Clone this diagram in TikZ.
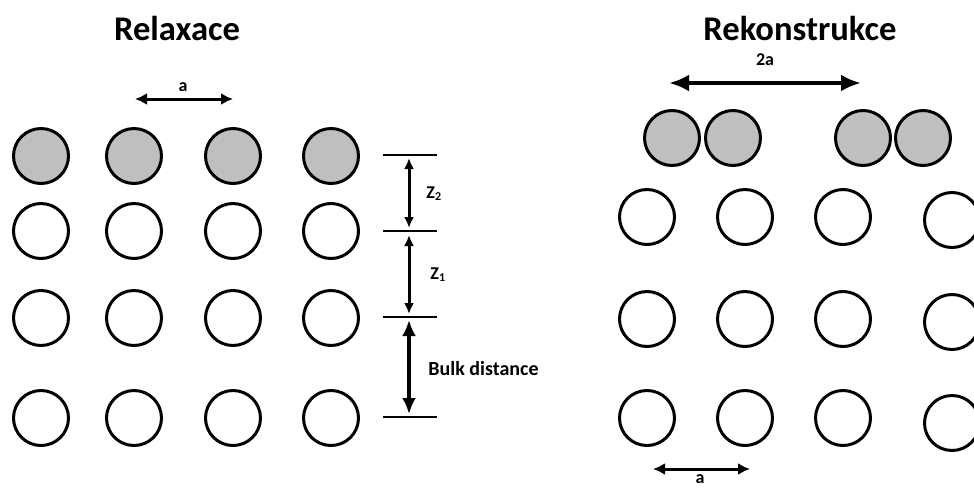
\documentclass[tikz,border=0pt]{standalone}
\usepackage{fontspec}
\setmainfont{Carlito}
\usepackage{tikz}
\usetikzlibrary{arrows.meta,positioning}
\tikzset{style={>={Latex[length=6pt,width=6pt]}}}
\tikzset{bulk/.style={circle,fill=white,draw=black,line width=1.5pt,minimum size=27.5pt,inner sep=0mm}}
\tikzset{surf/.style={circle,fill=gray!50,draw=black,line width=1.5pt,minimum size=27.5pt,inner sep=0mm}}
\tikzset{heading/.style={font=\fontsize{17.3}{20}\selectfont\bfseries}}
\tikzset{dimlabel/.style={font=\fontsize{9}{11}\selectfont\bfseries,inner sep=0pt}}
\tikzset{dimline/.style={line width=1.2pt}}
\tikzset{dimarrow/.style={<->,line width=1.5pt}}
\tikzset{bigarrow/.style={{Latex[length=8pt,width=7pt]}-{Latex[length=8pt,width=7pt]},line width=2pt}}

\begin{document}
\begin{tikzpicture}[x=0.5pt,y=-0.5pt]
    \useasboundingbox (0,0) rectangle (974,488);

    % relaxation: top layer moves down
    \node[heading] (relax) at (177,28) {Relaxace};

    \node[surf] (l11) at (41,156)  {};
    \node[surf] (l12) at (134,156) {};
    \node[surf] (l13) at (233,156) {};
    \node[surf] (l14) at (331,156) {};

    \node[bulk] (l21) at (41,231)  {};
    \node[bulk] (l22) at (134,231) {};
    \node[bulk] (l23) at (233,231) {};
    \node[bulk] (l24) at (331,231) {};

    \node[bulk] (l31) at (41,318)  {};
    \node[bulk] (l32) at (134,318) {};
    \node[bulk] (l33) at (233,318) {};
    \node[bulk] (l34) at (331,318) {};

    \node[bulk] (l41) at (41,418)  {};
    \node[bulk] (l42) at (134,418) {};
    \node[bulk] (l43) at (233,418) {};
    \node[bulk] (l44) at (331,418) {};

    \coordinate (al) at (135,99);
    \coordinate (ar) at (233,99);
    \draw[dimarrow] (al) -- (ar);
    \node[dimlabel] (alab) at (183,87) {a};

    % layer spacing
    \coordinate (t1l) at (383,155); \coordinate (t1r) at (437,155);
    \coordinate (t2l) at (383,231); \coordinate (t2r) at (437,231);
    \coordinate (t3l) at (383,317); \coordinate (t3r) at (437,317);
    \coordinate (t4l) at (383,417); \coordinate (t4r) at (437,417);
    \draw[dimline] (t1l) -- (t1r);
    \draw[dimline] (t2l) -- (t2r);
    \draw[dimline] (t3l) -- (t3r);
    \draw[dimline] (t4l) -- (t4r);

    \coordinate (z2a) at (409,158); \coordinate (z2b) at (409,228);
    \coordinate (z1a) at (409,235); \coordinate (z1b) at (409,314);
    \coordinate (bka) at (409,320); \coordinate (bkb) at (409,414);
    \draw[dimarrow,>={Latex[length=5.5pt,width=5pt]}] (z2a) -- (z2b);
    \draw[dimarrow,>={Latex[length=5.5pt,width=5pt]}] (z1a) -- (z1b);
    \draw[bigarrow] (bka) -- (bkb);

    \node[dimlabel,anchor=west] (z2lab) at (426,194) {Z\textsubscript{2}};
    \node[dimlabel,anchor=west] (z1lab) at (430,275) {Z\textsubscript{1}};
    \node[dimlabel,anchor=west,font=\fontsize{10}{12}\selectfont\bfseries] (bklab) at (428,369) {Bulk distance};

    % reconstruction: top atoms pair up
    \node[heading] (recon) at (800,28) {Rekonstrukce};

    \node[surf] (r11) at (672,138) {};
    \node[surf] (r12) at (733,138) {};
    \node[surf] (r13) at (863,138) {};
    \node[surf] (r14) at (923,138) {};

    \node[bulk] (r21) at (647,217) {};
    \node[bulk] (r22) at (745,217) {};
    \node[bulk] (r23) at (843,217) {};
    \node[bulk] (r24) at (952,220) {};

    \node[bulk] (r31) at (647,319) {};
    \node[bulk] (r32) at (745,319) {};
    \node[bulk] (r33) at (843,319) {};
    \node[bulk] (r34) at (952,322) {};

    \node[bulk] (r41) at (647,418) {};
    \node[bulk] (r42) at (745,418) {};
    \node[bulk] (r43) at (843,418) {};
    \node[bulk] (r44) at (952,423) {};

    \coordinate (bl) at (669,83);
    \coordinate (br) at (861,83);
    \draw[bigarrow,{Latex[length=10pt,width=8.5pt]}-{Latex[length=10pt,width=8.5pt]}] (bl) -- (br);
    \node[dimlabel] (blab) at (765,60) {2a};

    \coordinate (cl) at (653,469);
    \coordinate (cr) at (750,469);
    \draw[dimarrow] (cl) -- (cr);
    \node[dimlabel,anchor=south] (clab) at (700,484) {a};
\end{tikzpicture}
\end{document}
